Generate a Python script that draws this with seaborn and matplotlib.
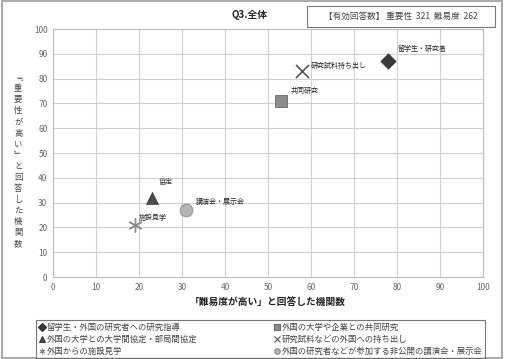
import matplotlib
matplotlib.use("Agg")
import matplotlib.pyplot as plt
import seaborn as sns
import pandas as pd
from matplotlib.lines import Line2D
from matplotlib.patches import Rectangle

sns.set_theme(style="white")
plt.rcParams['font.family'] = ['Noto Sans CJK JP', 'DejaVu Sans']

# ---- data ----
categories = ["留学生・外国の研究者への研究指導",
              "外国の大学や企業との共同研究",
              "外国の大学との大学間協定・部局間協定",
              "研究試料などの外国への持ち出し",
              "外国からの施設見学",
              "外国の研究者などが参加する非公開の講演会・展示会"]
short_labels = ["留学生・研究者", "共同研究", "協定", "研究試料持ち出し", "施設見学", "講演会・展示会"]
difficulty = [78, 53, 23, 58, 19, 31]   # x
importance = [87, 71, 32, 83, 21, 27]   # y
x_ticks = list(range(0, 101, 10))
y_ticks = list(range(0, 101, 10))

df = pd.DataFrame({"cat": categories, "label": short_labels,
                   "x": difficulty, "y": importance})

styles = {
    categories[0]: dict(marker="D", color="#3a3a3a", s=60, ec="#2a2a2a", lw=0.5),
    categories[1]: dict(marker="s", color="#8c8c8c", s=80, ec="#6a6a6a", lw=0.6),
    categories[2]: dict(marker="^", color="#4a4a4a", s=75, ec="#3a3a3a", lw=0.5),
    categories[3]: dict(marker="x", color="#555555", s=90, ec=None, lw=1.2),
    categories[4]: dict(marker=(6, 2, 0), color="#8a8a8a", s=90, ec=None, lw=1.0),
    categories[5]: dict(marker="o", color="#b4b4b4", s=85, ec="#8a8a8a", lw=0.6),
}
offsets = {  # text offsets in points
    categories[0]: (7, 9),
    categories[1]: (7, 7),
    categories[2]: (5, 11),
    categories[3]: (6, 4),
    categories[4]: (3, 5),
    categories[5]: (7, 6),
}

fig = plt.figure(figsize=(5.07, 3.59), dpi=100)
ax = fig.add_axes([0.1045, 0.2284, 0.8482, 0.6908])

for _, r in df.iterrows():
    st = styles[r["cat"]]
    kw = dict(marker=st["marker"], s=st["s"], color=st["color"], linewidth=st["lw"])
    if st["ec"] is not None:
        kw["edgecolor"] = st["ec"]
    sns.scatterplot(x=[r["x"]], y=[r["y"]], ax=ax, legend=False, zorder=3, **kw)
    ax.annotate(r["label"], (r["x"], r["y"]), xytext=offsets[r["cat"]],
                textcoords="offset points", fontsize=5, color="#222222",
                ha="left", va="center")

ax.set_xlim(0, 100)
ax.set_ylim(0, 100)
ax.set_xticks(x_ticks)
ax.set_yticks(y_ticks)
ax.tick_params(axis="both", labelsize=6, colors="#666666", length=0, pad=4)
ax.grid(True, color="#cfcfcf", linewidth=0.8)
ax.set_axisbelow(True)
for sp in ax.spines.values():
    sp.set_color("#bbbbbb")
    sp.set_linewidth(0.8)
ax.set_xlabel("「難易度が高い」と回答した機関数", fontsize=7, fontweight="bold",
              color="#222222", labelpad=4)
ax.set_ylabel("")

ylab = "﹃重要性が高い﹄と回答した機関数"
fig.text(0.036, 0.552, "\n".join(ylab), fontsize=6, color="#444444",
         ha="center", va="center", linespacing=1.3)

fig.text(0.493, 0.958, "Q3.全体", fontsize=7, fontweight="bold",
         color="#222222", ha="center", va="center")
fig.text(0.79, 0.955, "【有効回答数】 重要性  321  難易度  262", fontsize=6.2,
         color="#444444", ha="center", va="center")
fig.patches.append(Rectangle((0.606, 0.925), 0.370, 0.057, transform=fig.transFigure,
                             fill=False, edgecolor="#777777", linewidth=0.8))
fig.patches.append(Rectangle((0.003, 0.003), 0.988, 0.994, transform=fig.transFigure,
                             fill=False, edgecolor="#999999", linewidth=1.2))

order = [0, 2, 4, 1, 3, 5]
handles = []
for i in order:
    st = styles[categories[i]]
    h = Line2D([], [], linestyle="", marker=st["marker"], markersize=4,
               color=st["color"],
               markeredgecolor=st["ec"] if st["ec"] else st["color"],
               markeredgewidth=0.8)
    handles.append(h)
leg = fig.legend(handles, [categories[i] for i in order], ncol=2,
                 loc="lower left", bbox_to_anchor=(0.071, 0.003, 0.886, 0.13),
                 mode="expand", fontsize=6, frameon=True, fancybox=False,
                 edgecolor="#555555", handlelength=0.8, handletextpad=0.2,
                 borderpad=0.3, labelspacing=0.35, columnspacing=1.0,
                 borderaxespad=0)
leg.get_frame().set_linewidth(0.8)
for t in leg.get_texts():
    t.set_color("#444444")

fig.savefig("out.png", dpi=100)
